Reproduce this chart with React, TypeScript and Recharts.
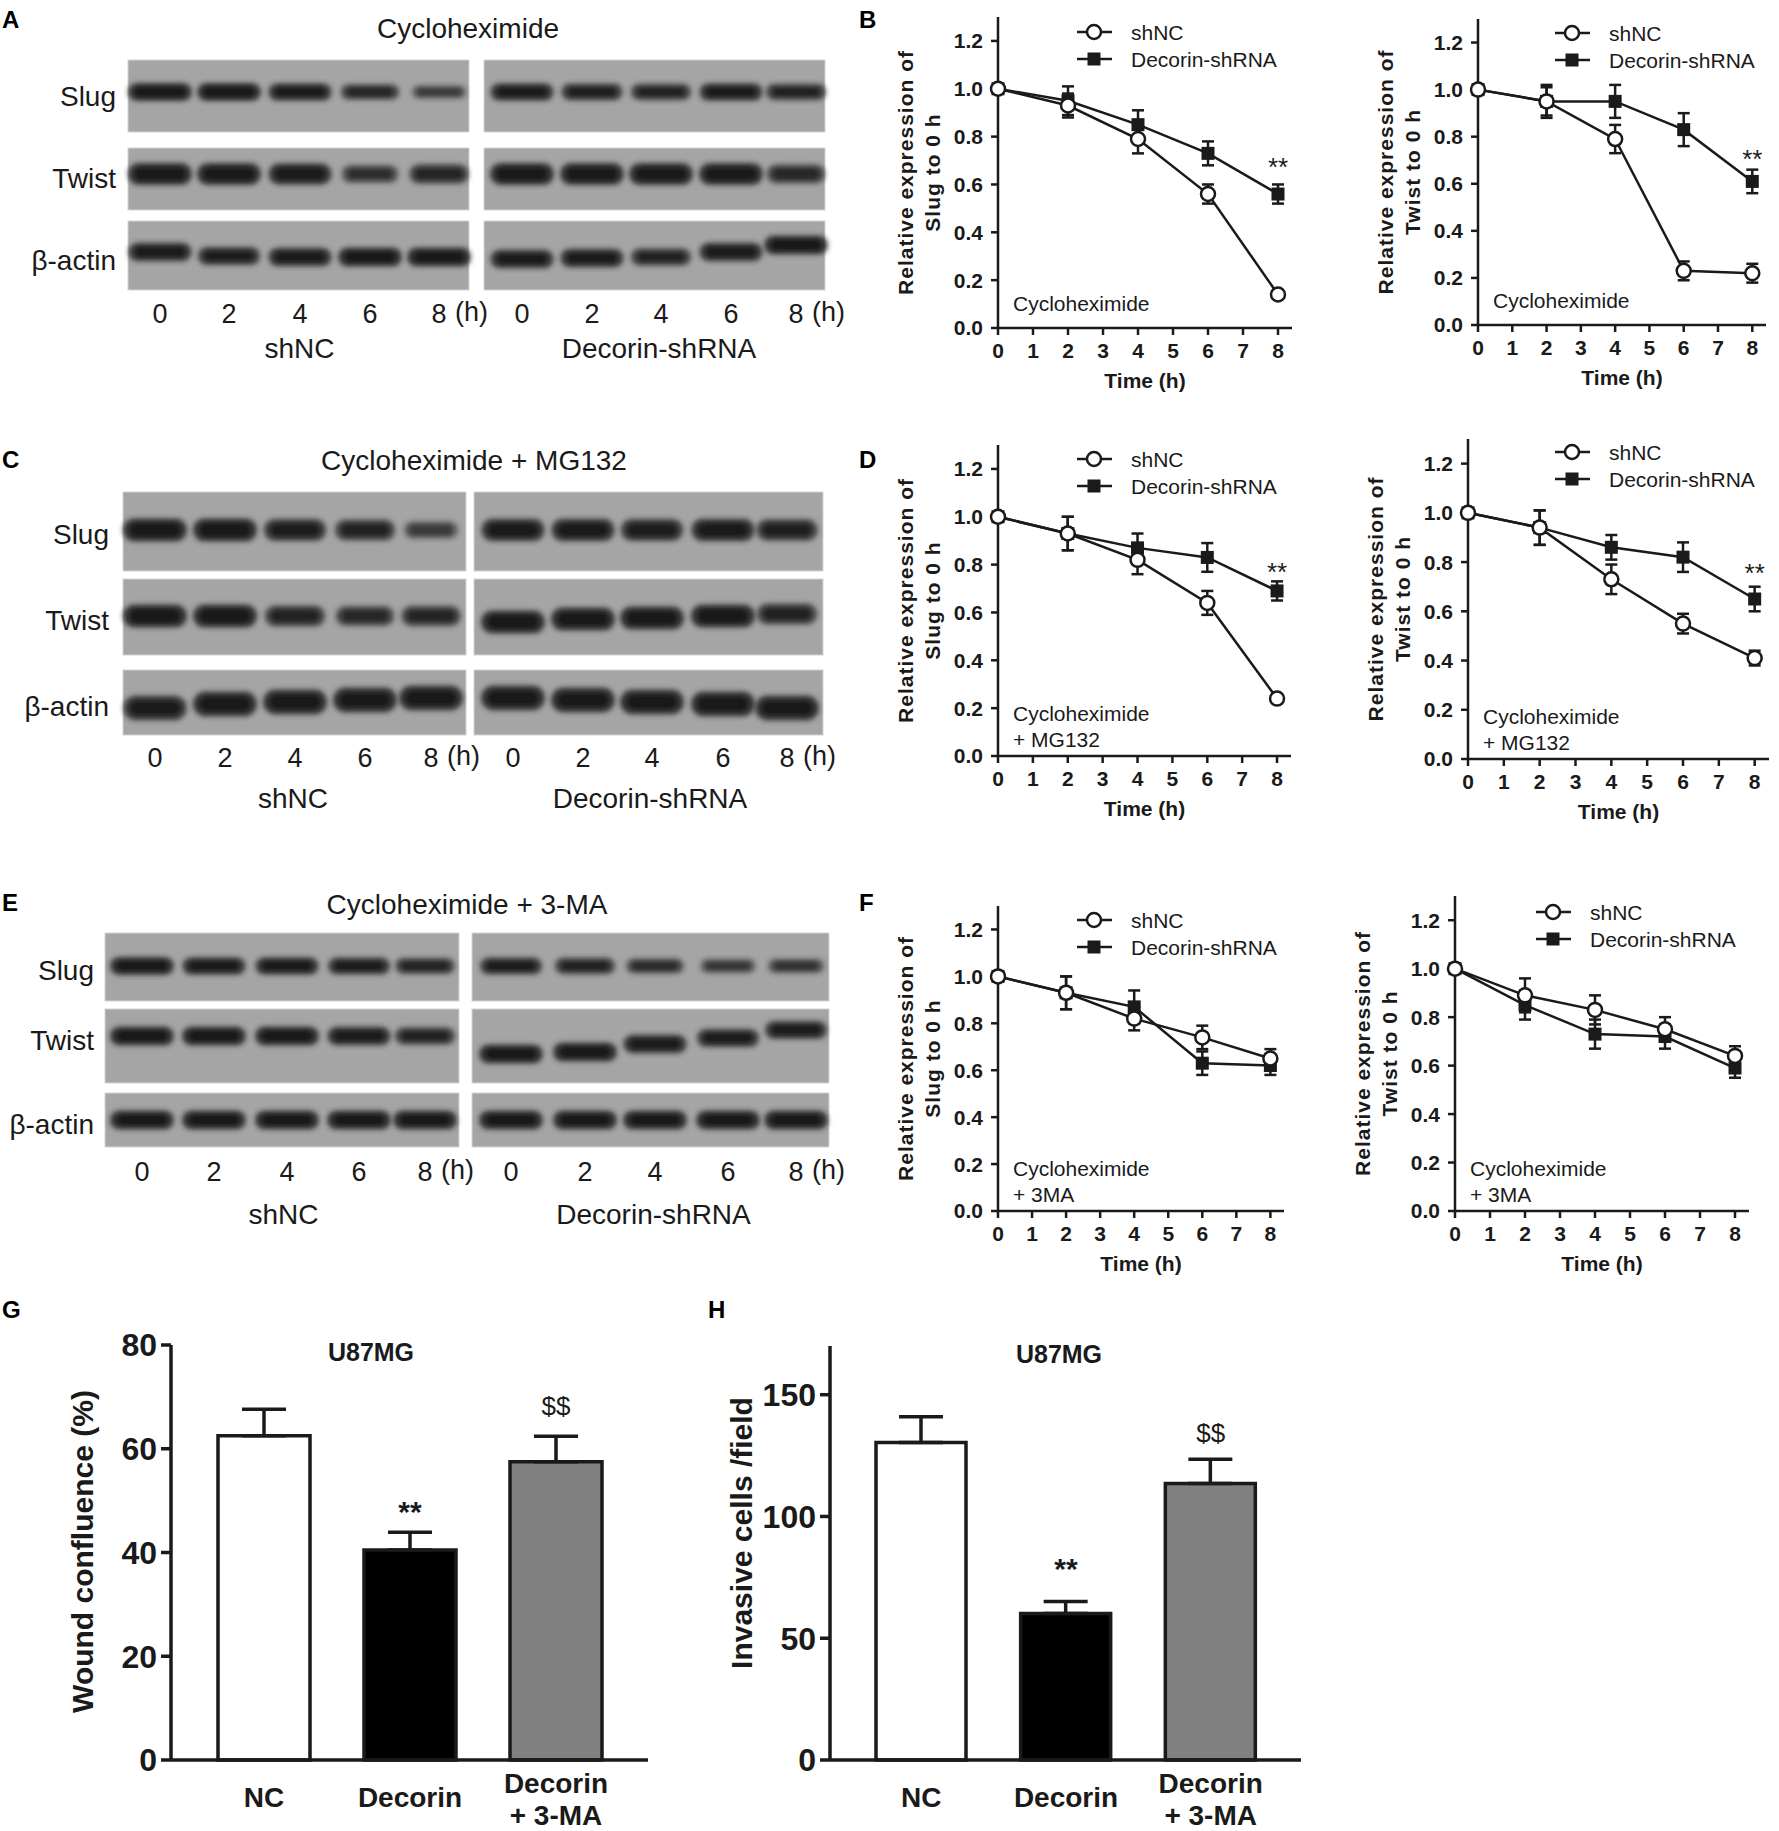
import React from "react";
import { Bar, BarChart, Cell, ErrorBar, Line, LineChart, ReferenceDot, XAxis, YAxis } from "recharts";

const FONT = '"Liberation Sans", Arial, Helvetica, sans-serif';
const NARROW = '"Liberation Sans Narrow", "Arial Narrow", "Liberation Sans", Arial, sans-serif';
const INK = "#1a1a1a";

// ---- time course data (relative expression to 0 h) ----
const hours = [0, 2, 4, 6, 8];
const hourTicks = [0, 1, 2, 3, 4, 5, 6, 7, 8];
const relTicks = [0, 0.2, 0.4, 0.6, 0.8, 1.0, 1.2];

// B: cycloheximide
const slugChxShNC = [1.0, 0.93, 0.79, 0.56, 0.14];
const slugChxShNCErr = [0.01, 0.05, 0.06, 0.04, 0.01];
const slugChxDcn = [1.0, 0.95, 0.85, 0.73, 0.56];
const slugChxDcnErr = [0.01, 0.06, 0.06, 0.05, 0.04];
const twistChxShNC = [1.0, 0.95, 0.79, 0.23, 0.22];
const twistChxShNCErr = [0.01, 0.06, 0.06, 0.04, 0.04];
const twistChxDcn = [1.0, 0.95, 0.95, 0.83, 0.61];
const twistChxDcnErr = [0.01, 0.07, 0.07, 0.07, 0.05];

// D: cycloheximide + MG132
const slugMgShNC = [1.0, 0.93, 0.82, 0.64, 0.24];
const slugMgShNCErr = [0.01, 0.07, 0.06, 0.05, 0.01];
const slugMgDcn = [1.0, 0.93, 0.87, 0.83, 0.69];
const slugMgDcnErr = [0.01, 0.07, 0.06, 0.06, 0.04];
const twistMgShNC = [1.0, 0.94, 0.73, 0.55, 0.41];
const twistMgShNCErr = [0.01, 0.07, 0.06, 0.04, 0.03];
const twistMgDcn = [1.0, 0.94, 0.86, 0.82, 0.65];
const twistMgDcnErr = [0.01, 0.07, 0.05, 0.06, 0.05];

// F: cycloheximide + 3MA
const slugMaShNC = [1.0, 0.93, 0.82, 0.74, 0.65];
const slugMaShNCErr = [0.01, 0.07, 0.05, 0.05, 0.04];
const slugMaDcn = [1.0, 0.93, 0.87, 0.63, 0.62];
const slugMaDcnErr = [0.01, 0.07, 0.07, 0.05, 0.04];
const twistMaShNC = [1.0, 0.89, 0.83, 0.75, 0.64];
const twistMaShNCErr = [0.01, 0.07, 0.06, 0.05, 0.04];
const twistMaDcn = [1.0, 0.85, 0.73, 0.72, 0.59];
const twistMaDcnErr = [0.01, 0.06, 0.06, 0.05, 0.04];

// ---- G / H bar data ----
const barGroups = ["NC", "Decorin", "Decorin\n+ 3-MA"];
const barFills = ["#ffffff", "#000000", "#808080"];
const woundMean = [62.5, 40.5, 57.5];
const woundSem = [5.1, 3.4, 4.9];
const woundTicks = [0, 20, 40, 60, 80];
const invasionMean = [130.4, 60.2, 113.5];
const invasionSem = [10.5, 4.9, 10.0];
const invasionTicks = [0, 50, 100, 150];

// ---- western blot band intensities (0..1), lanes 0/2/4/6/8 h ----
const aSlugL = [1, 1, 0.95, 0.7, 0.45];
const aSlugR = [0.95, 0.85, 0.8, 0.95, 0.8];
const aTwistL = [1, 1, 0.95, 0.6, 0.75];
const aTwistR = [1, 1, 1, 1, 0.7];
const aActinL = [0.95, 0.9, 0.95, 1, 1];
const aActinR = [0.95, 0.95, 0.8, 0.95, 1];
const cSlugL = [1, 1, 0.9, 0.8, 0.45];
const cSlugR = [0.95, 0.95, 0.9, 0.95, 0.85];
const cTwistL = [1, 1, 0.8, 0.7, 0.75];
const cTwistR = [1, 1, 1, 1, 0.8];
const cActinL = [0.95, 1, 1, 1, 1];
const cActinR = [1, 1, 1, 1, 1];
const eSlugL = [1, 0.95, 0.95, 0.9, 0.75];
const eSlugR = [0.9, 0.8, 0.65, 0.5, 0.55];
const eTwistL = [1, 1, 1, 0.95, 0.8];
const eTwistR = [1, 1, 0.95, 0.9, 0.9];
const eActinL = [1, 1, 1, 1, 1];
const eActinR = [1, 1, 1, 1, 1];
const laneNames = ["0", "2", "4", "6", "8"];

type BlotRow = { name: string; y0: number; y1: number; cy: number; h: number; left: number[]; right: number[]; shiftL?: number[]; shiftR?: number[] };
type Blot = {
  title: string; titleX: number; titleY: number; boxL: number[]; boxR: number[];
  lanesL: number[]; lanesR: number[]; labelRight: number; laneY: number; groupY: number; rows: BlotRow[];
};

const blots: Blot[] = [
  {
    title: "Cycloheximide", titleX: 468, titleY: 28, boxL: [128, 469], boxR: [484, 825],
    lanesL: [160, 229, 300, 370, 439], lanesR: [522, 592, 661, 731, 796], labelRight: 116, laneY: 314, groupY: 348,
    rows: [
      { name: "Slug", y0: 60, y1: 132, cy: 92, h: 18, left: aSlugL, right: aSlugR },
      { name: "Twist", y0: 148, y1: 210, cy: 174, h: 22, left: aTwistL, right: aTwistR },
      { name: "β-actin", y0: 221, y1: 290, cy: 256, h: 19, left: aActinL, right: aActinR, shiftL: [-4, 0, 1, 1, 1], shiftR: [3, 2, 1, -4, -11] },
    ],
  },
  {
    title: "Cycloheximide + MG132", titleX: 474, titleY: 460, boxL: [123, 466], boxR: [474, 823],
    lanesL: [155, 225, 295, 365, 431], lanesR: [513, 583, 652, 723, 787], labelRight: 109, laneY: 758, groupY: 798,
    rows: [
      { name: "Slug", y0: 492, y1: 571, cy: 530, h: 23, left: cSlugL, right: cSlugR },
      { name: "Twist", y0: 579, y1: 655, cy: 616, h: 23, left: cTwistL, right: cTwistR, shiftR: [6, 3, 2, 0, -2] },
      { name: "β-actin", y0: 670, y1: 735, cy: 702, h: 25, left: cActinL, right: cActinR, shiftL: [6, 2, 0, -2, -4], shiftR: [-4, -2, 0, 2, 6] },
    ],
  },
  {
    title: "Cycloheximide + 3-MA", titleX: 467, titleY: 904, boxL: [105, 459], boxR: [472, 829],
    lanesL: [142, 214, 287, 359, 425], lanesR: [511, 585, 655, 728, 796], labelRight: 94, laneY: 1172, groupY: 1214,
    rows: [
      { name: "Slug", y0: 933, y1: 1001, cy: 966, h: 18, left: eSlugL, right: eSlugR },
      { name: "Twist", y0: 1009, y1: 1083, cy: 1036, h: 19, left: eTwistL, right: eTwistR, shiftR: [18, 16, 8, 2, -6] },
      { name: "β-actin", y0: 1093, y1: 1147, cy: 1120, h: 19, left: eActinL, right: eActinR },
    ],
  },
];

const panelLetters = [
  { t: "A", x: 2, y: 28 }, { t: "B", x: 859, y: 28 },
  { t: "C", x: 2, y: 468 }, { t: "D", x: 859, y: 468 },
  { t: "E", x: 2, y: 911 }, { t: "F", x: 859, y: 911 },
  { t: "G", x: 2, y: 1318 }, { t: "H", x: 708, y: 1318 },
];

function Blots() {
  return (
    <svg width={1779} height={1831} style={{ position: "absolute", left: 0, top: 0 }}>
      <defs>
        <filter id="bandBlur" x="-30%" y="-80%" width="160%" height="260%">
          <feGaussianBlur stdDeviation="2.8" />
        </filter>
      </defs>
      {panelLetters.map((p) => (
        <text key={p.t} x={p.x} y={p.y} fontFamily={FONT} fontWeight={700} fontSize={24} fill="#000">{p.t}</text>
      ))}
      {blots.map((b, bi) => (
        <g key={bi} fontFamily={FONT} fill={INK}>
          <text x={b.titleX} y={b.titleY} textAnchor="middle" dominantBaseline="central" fontSize={28}>{b.title}</text>
          {b.rows.map((r) => (
            <g key={r.name}>
              <text x={b.labelRight} y={r.cy + 4} textAnchor="end" dominantBaseline="central" fontSize={28}>{r.name}</text>
              {[b.boxL, b.boxR].map((box, k) => (
                <rect key={k} x={box[0]} y={r.y0} width={box[1] - box[0]} height={r.y1 - r.y0} fill="#a5a5a5" stroke="#d4d4d4" strokeWidth={1} />
              ))}
              {[0, 1].map((side) => {
                const lanes = side === 0 ? b.lanesL : b.lanesR;
                const vals = side === 0 ? r.left : r.right;
                const shift = side === 0 ? r.shiftL : r.shiftR;
                return vals.map((v, i) => {
                  const w = 64 * (0.72 + 0.28 * v);
                  const h = r.h * (0.55 + 0.45 * v);
                  const cy = r.cy + (shift ? shift[i] : 0);
                  return (
                    <g key={`${side}-${i}`} filter="url(#bandBlur)">
                      <rect x={lanes[i] - w / 2} y={cy - h / 2} width={w} height={h} rx={h / 2}
                        fill="#2a2a2a" fillOpacity={0.3 + 0.6 * v} />
                      <rect x={lanes[i] - w * 0.4} y={cy - h * 0.3} width={w * 0.8} height={h * 0.6} rx={h * 0.3}
                        fill="#0e0e0e" fillOpacity={0.2 + 0.6 * v} />
                    </g>
                  );
                });
              })}
            </g>
          ))}
          {[b.lanesL, b.lanesR].map((lanes, k) => (
            <g key={k}>
              {lanes.map((x, i) => (
                <text key={i} x={x} y={b.laneY} textAnchor="middle" dominantBaseline="central" fontSize={27}>{laneNames[i]}</text>
              ))}
              <text x={lanes[4] + 16} y={b.laneY - 2} dominantBaseline="central" fontSize={27}>(h)</text>
            </g>
          ))}
          <text x={(b.lanesL[0] + b.lanesL[4]) / 2} y={b.groupY} textAnchor="middle" dominantBaseline="central" fontSize={28}>shNC</text>
          <text x={(b.lanesR[0] + b.lanesR[4]) / 2} y={b.groupY} textAnchor="middle" dominantBaseline="central" fontSize={28}>Decorin-shRNA</text>
        </g>
      ))}
    </svg>
  );
}

type LinePanelProps = {
  x0: number; x1: number; yTop: number; yBottom: number; gene: string;
  shNC: number[]; shNCErr: number[]; dcn: number[]; dcnErr: number[];
  note: string[]; star: number | null; legendDx: number; legendDy: number;
};

function OpenCircle(props: any) {
  const { cx, cy, index } = props;
  return <circle key={`c${index}`} cx={cx} cy={cy} r={7} fill="#fff" stroke={INK} strokeWidth={2.5} />;
}

function FilledSquare(props: any) {
  const { cx, cy, index } = props;
  return <rect key={`s${index}`} x={cx - 6.5} y={cy - 6.5} width={13} height={13} fill={INK} />;
}

function LinePanel(p: LinePanelProps) {
  const plotW = p.x1 - p.x0;
  const plotH = p.yBottom - p.yTop;
  const yAxisW = 120;
  const left = p.x0 - yAxisW;
  const top = p.yTop - 20;
  const width = yAxisW + plotW + 20;
  const height = 20 + plotH + 75;
  const rows = hours.map((t, i) => ({ t, a: p.shNC[i], ae: p.shNCErr[i], b: p.dcn[i], be: p.dcnErr[i] }));
  const lx = yAxisW + p.legendDx;
  const ly = 20 + p.legendDy;
  const noteTop = 20 + plotH - (p.note.length === 1 ? 25 : 43);
  return (
    <div style={{ position: "absolute", left, top, width, height }}>
      <LineChart width={width} height={height} data={rows} margin={{ top: 20, right: 20, left: 0, bottom: 0 }}>
        <XAxis
          type="number" dataKey="t" domain={[0, 8.4]} ticks={hourTicks} interval={0} height={75}
          axisLine={{ stroke: INK, strokeWidth: 2.5 }} tickLine={{ stroke: INK, strokeWidth: 2.5 }} tickSize={7} tickMargin={8}
          tick={{ fill: INK, fontSize: 21, fontWeight: 700, fontFamily: NARROW }}
          label={(lp: any) => {
            const vb = lp.viewBox;
            return (
              <text x={vb.x + vb.width / 2} y={vb.y + 52} textAnchor="middle" dominantBaseline="central"
                fontFamily={NARROW} fontWeight={700} fontSize={21} fill={INK}>Time (h)</text>
            );
          }}
        />
        <YAxis
          type="number" domain={[0, 1.3]} ticks={relTicks} interval={0} width={yAxisW}
          tickFormatter={(v: number) => v.toFixed(1)}
          axisLine={{ stroke: INK, strokeWidth: 2.5 }} tickLine={{ stroke: INK, strokeWidth: 2.5 }} tickSize={7} tickMargin={8}
          tick={{ fill: INK, fontSize: 21, fontWeight: 700, fontFamily: NARROW }}
          label={(lp: any) => {
            const vb = lp.viewBox;
            const cy = vb.y + vb.height / 2;
            const xa = vb.x + vb.width - 93;
            const xb = vb.x + vb.width - 66;
            return (
              <g fontFamily={FONT} fontWeight={700} fontSize={21} fill={INK} letterSpacing={1}>
                <text x={xa} y={cy} textAnchor="middle" dominantBaseline="central" transform={`rotate(-90, ${xa}, ${cy})`}>Relative expression of</text>
                <text x={xb} y={cy} textAnchor="middle" dominantBaseline="central" transform={`rotate(-90, ${xb}, ${cy})`}>{`${p.gene} to 0 h`}</text>
              </g>
            );
          }}
        />
        <Line type="linear" dataKey="b" stroke={INK} strokeWidth={2.5} dot={FilledSquare} activeDot={false} isAnimationActive={false}>
          <ErrorBar dataKey="be" width={6} stroke={INK} strokeWidth={2.5} isAnimationActive={false} />
        </Line>
        <Line type="linear" dataKey="a" stroke={INK} strokeWidth={2.5} dot={OpenCircle} activeDot={false} isAnimationActive={false}>
          <ErrorBar dataKey="ae" width={6} stroke={INK} strokeWidth={2.5} isAnimationActive={false} />
        </Line>
        {p.star !== null && (
          <ReferenceDot x={8} y={p.star} r={0} fill="none" stroke="none"
            label={{ value: "**", position: "center", fill: INK, fontSize: 26, fontFamily: NARROW }} />
        )}
      </LineChart>
      <svg width={width} height={height} style={{ position: "absolute", left: 0, top: 0, pointerEvents: "none" }}>
        <g fontFamily={FONT} fontSize={21} fill={INK}>
          <line x1={lx - 17} x2={lx + 18} y1={ly} y2={ly} stroke={INK} strokeWidth={2.5} />
          <circle cx={lx} cy={ly} r={7} fill="#fff" stroke={INK} strokeWidth={2.5} />
          <text x={lx + 37} y={ly} dominantBaseline="central">shNC</text>
          <line x1={lx - 17} x2={lx + 18} y1={ly + 27} y2={ly + 27} stroke={INK} strokeWidth={2.5} />
          <rect x={lx - 6.5} y={ly + 27 - 6.5} width={13} height={13} fill={INK} />
          <text x={lx + 37} y={ly + 27} dominantBaseline="central">Decorin-shRNA</text>
          {p.note.map((n, i) => (
            <text key={i} x={yAxisW + 15} y={noteTop + i * 26} dominantBaseline="central">{n}</text>
          ))}
        </g>
      </svg>
    </div>
  );
}

function GroupTick(props: any) {
  const { x, y, payload } = props;
  const lines = String(payload.value).split("\n");
  const base = lines.length === 1 ? [47] : [33, 65];
  return (
    <g>
      {lines.map((l, i) => (
        <text key={i} x={x} y={y + base[i]} textAnchor="middle" fontFamily={FONT} fontWeight={700} fontSize={28} fill={INK}>{l}</text>
      ))}
    </g>
  );
}

type BarPanelProps = {
  x0: number; x1: number; yTop: number; yBottom: number; max: number; ticks: number[];
  mean: number[]; sem: number[]; yLabel: string; labelDy: number; barSize: number; pad: number[];
  starY: number; dollarY: number; titleX: number; titleY: number;
};

function BarPanel(p: BarPanelProps) {
  const yAxisW = 131;
  const plotW = p.x1 - p.x0;
  const plotH = p.yBottom - p.yTop;
  const left = p.x0 - yAxisW;
  const top = p.yTop - 15;
  const width = yAxisW + plotW + 10;
  const height = 15 + plotH + 71;
  const rows = barGroups.map((name, i) => ({ name, v: p.mean[i], e: p.sem[i] }));
  return (
    <div style={{ position: "absolute", left, top, width, height }}>
      <BarChart width={width} height={height} data={rows} margin={{ top: 15, right: 10, left: 0, bottom: 0 }}>
        <XAxis dataKey="name" type="category" height={71} padding={{ left: p.pad[0], right: p.pad[1] }}
          axisLine={{ stroke: INK, strokeWidth: 3.5 }} tickLine={false} tickSize={0} tickMargin={0} interval={0} tick={GroupTick} />
        <YAxis type="number" domain={[0, p.max]} ticks={p.ticks} interval={0} width={yAxisW}
          axisLine={{ stroke: INK, strokeWidth: 3.5 }} tickLine={{ stroke: INK, strokeWidth: 3.5 }} tickSize={10} tickMargin={4}
          tick={{ fill: INK, fontSize: 32, fontWeight: 700, fontFamily: NARROW }}
          label={(lp: any) => {
            const vb = lp.viewBox;
            const cx = vb.x + vb.width - 89;
            const cy = vb.y + vb.height / 2 + p.labelDy;
            return (
              <text x={cx} y={cy} textAnchor="middle" dominantBaseline="central" transform={`rotate(-90, ${cx}, ${cy})`}
                fontFamily={FONT} fontWeight={700} fontSize={30} fill={INK}>{p.yLabel}</text>
            );
          }}
        />
        <Bar dataKey="v" barSize={p.barSize} stroke={INK} strokeWidth={3.5} isAnimationActive={false}>
          {rows.map((r, i) => (
            <Cell key={r.name} fill={barFills[i]} />
          ))}
          <ErrorBar dataKey={(d: any) => [0, d.e]} width={22} stroke={INK} strokeWidth={3.5} isAnimationActive={false} />
        </Bar>
        <ReferenceDot x="Decorin" y={p.starY} r={0} fill="none" stroke="none"
          label={{ value: "**", position: "center", fill: INK, fontSize: 30, fontWeight: 700, fontFamily: FONT }} />
        <ReferenceDot x={"Decorin\n+ 3-MA"} y={p.dollarY} r={0} fill="none" stroke="none"
          label={{ value: "$$", position: "center", fill: INK, fontSize: 26, fontFamily: NARROW }} />
      </BarChart>
      <div style={{ position: "absolute", left: p.titleX - left - 100, top: p.titleY - top - 16, width: 200, textAlign: "center",
        fontFamily: FONT, fontWeight: 700, fontSize: 25, lineHeight: "32px", color: INK }}>U87MG</div>
    </div>
  );
}

export default function App() {
  return (
    <div style={{ position: "absolute", left: 0, top: 0, width: 1779, height: 1831, background: "#fff", overflow: "hidden" }}>
      <Blots />
      <LinePanel x0={998} x1={1292} yTop={17} yBottom={328} gene="Slug"
        shNC={slugChxShNC} shNCErr={slugChxShNCErr} dcn={slugChxDcn} dcnErr={slugChxDcnErr}
        note={["Cycloheximide"]} star={0.675} legendDx={96} legendDy={15} />
      <LinePanel x0={1478} x1={1766} yTop={19} yBottom={325} gene="Twist"
        shNC={twistChxShNC} shNCErr={twistChxShNCErr} dcn={twistChxDcn} dcnErr={twistChxDcnErr}
        note={["Cycloheximide"]} star={0.705} legendDx={94} legendDy={14} />
      <LinePanel x0={998} x1={1291} yTop={445} yBottom={756} gene="Slug"
        shNC={slugMgShNC} shNCErr={slugMgShNCErr} dcn={slugMgDcn} dcnErr={slugMgDcnErr}
        note={["Cycloheximide", "+ MG132"]} star={0.77} legendDx={96} legendDy={14} />
      <LinePanel x0={1468} x1={1769} yTop={439} yBottom={759} gene="Twist"
        shNC={twistMgShNC} shNCErr={twistMgShNCErr} dcn={twistMgDcn} dcnErr={twistMgDcnErr}
        note={["Cycloheximide", "+ MG132"]} star={0.757} legendDx={104} legendDy={13} />
      <LinePanel x0={998} x1={1284} yTop={906} yBottom={1211} gene="Slug"
        shNC={slugMaShNC} shNCErr={slugMaShNCErr} dcn={slugMaDcn} dcnErr={slugMaDcnErr}
        note={["Cycloheximide", "+ 3MA"]} star={null} legendDx={96} legendDy={14} />
      <LinePanel x0={1455} x1={1749} yTop={896} yBottom={1211} gene="Twist"
        shNC={twistMaShNC} shNCErr={twistMaShNCErr} dcn={twistMaDcn} dcnErr={twistMaDcnErr}
        note={["Cycloheximide", "+ 3MA"]} star={null} legendDx={98} legendDy={16} />
      <BarPanel x0={171} x1={648} yTop={1345} yBottom={1760} max={80} ticks={woundTicks}
        mean={woundMean} sem={woundSem} yLabel="Wound confluence (%)" labelDy={-1} barSize={92} pad={[20, 19]}
        starY={47.9} dollarY={68.2} titleX={371} titleY={1352} />
      <BarPanel x0={830} x1={1301} yTop={1346} yBottom={1760} max={170} ticks={invasionTicks}
        mean={invasionMean} sem={invasionSem} yLabel="Invasive cells /field" labelDy={-20} barSize={90} pad={[19, 18]}
        starY={78.9} dollarY={134.4} titleX={1059} titleY={1354} />
    </div>
  );
}
